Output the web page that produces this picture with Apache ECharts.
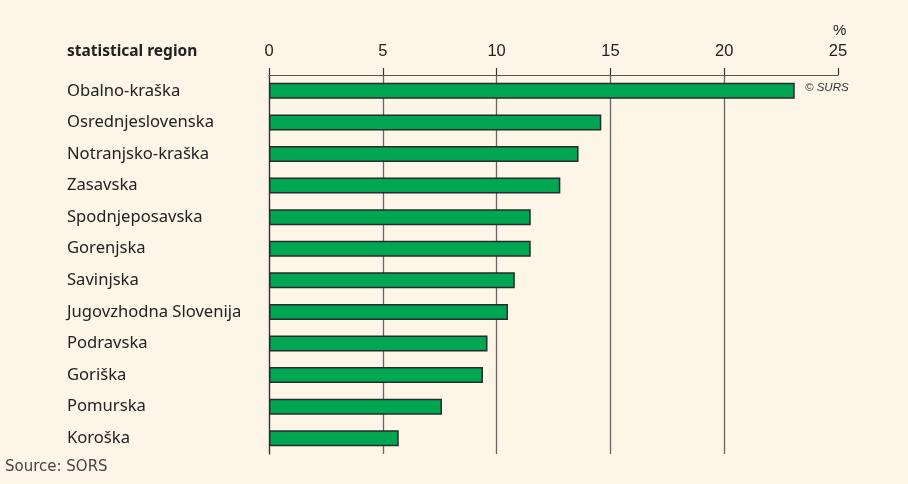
<!DOCTYPE html>
<html>
<head>
<meta charset="utf-8">
<script src="https://cdn.jsdelivr.net/npm/echarts@6/dist/echarts.min.js"></script>
<style>
  html, body { margin: 0; padding: 0; background: #fdf5e8; }
  #main { width: 908px; height: 484px; }
</style>
</head>
<body>
<div id="main"></div>
<script>
const regions = [
  "Obalno-kraška",
  "Osrednjeslovenska",
  "Notranjsko-kraška",
  "Zasavska",
  "Spodnjeposavska",
  "Gorenjska",
  "Savinjska",
  "Jugovzhodna Slovenija",
  "Podravska",
  "Goriška",
  "Pomurska",
  "Koroška",
];
const shares = [23.1, 14.6, 13.6, 12.8, 11.5, 11.5, 10.8, 10.5, 9.6, 9.4, 7.6, 5.7];
const xTicks = [0, 25, 5]; // min, max, interval

const chart = echarts.init(document.getElementById("main"));

const option = {
  backgroundColor: "#fdf5e8",
  animation: false,
  grid: {
    left: 269,
    right: 70,
    top: 75,
    bottom: 30,
  },
  xAxis: {
    type: "value",
    position: "top",
    min: xTicks[0],
    max: xTicks[1],
    interval: xTicks[2],
    axisLine: { show: true, lineStyle: { color: "#555", width: 1.2 } },
    axisTick: { show: true, length: 7, lineStyle: { color: "#333", width: 1.2 } },
    axisLabel: {
      margin: 15,
      color: "#222",
      fontFamily: "Liberation Sans",
      fontSize: 16.5,
    },
    splitLine: {
      show: true,
      showMaxLine: false,
      lineStyle: { color: "#666", width: 1.3 },
    },
  },
  yAxis: {
    type: "category",
    inverse: true,
    data: regions,
    axisLine: { show: true, lineStyle: { color: "#333", width: 1.2 } },
    axisTick: { show: false },
    axisLabel: {
      align: "left",
      margin: 202,
      color: "#222",
      fontFamily: "Noto Sans",
      fontSize: 16.6,
    },
  },
  graphic: [
    {
      type: "text",
      left: 67,
      top: 44,
      style: {
        text: "statistical region",
        font: "bold 15.5px 'Noto Sans'",
        fill: "#222",
      },
    },
    {
      type: "text",
      left: 833,
      top: 23,
      style: { text: "%", font: "15px 'Liberation Sans'", fill: "#222" },
    },
    {
      type: "text",
      left: 805,
      top: 82,
      style: { text: "© SURS", font: "italic 11.5px 'Liberation Sans'", fill: "#333" },
    },
    {
      type: "text",
      left: 5,
      top: 460,
      style: { text: "Source: SORS", font: "15px 'DejaVu Sans'", fill: "#444" },
    },
  ],
  series: [
    {
      type: "bar",
      data: shares,
      barWidth: 16,
      itemStyle: {
        color: "#00a651",
        borderColor: "#2a2a2a",
        borderWidth: 1.5,
      },
    },
  ],
};

chart.setOption(option);
</script>
</body>
</html>
